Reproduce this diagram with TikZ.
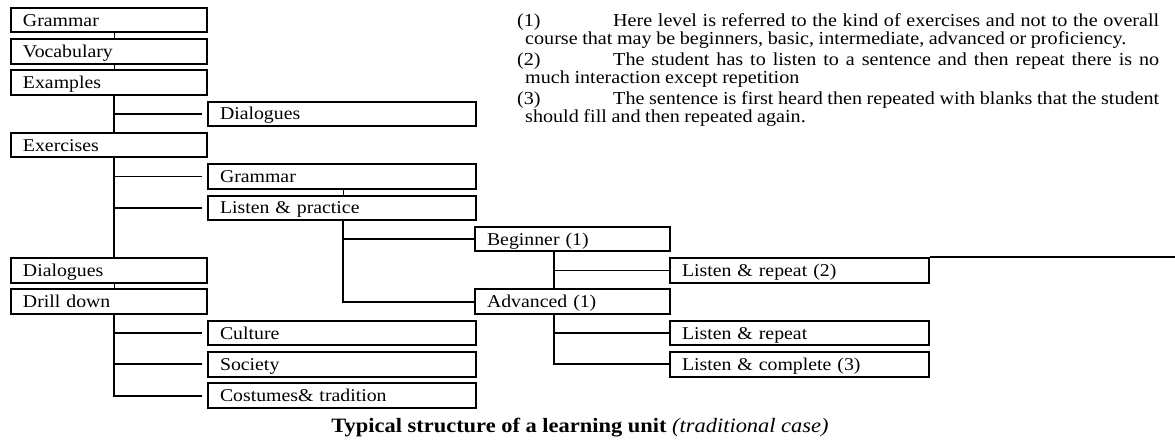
\documentclass[tikz,border=0pt]{standalone}
\usepackage{fontspec}
\setmainfont{Liberation Serif}[FakeStretch=1.1]

\begin{document}
\begin{tikzpicture}[
        x=1pt, y=-1pt,
        cell/.style={draw, line width=2pt, anchor=west, minimum height=24.5pt, inner xsep=12pt, inner ysep=0pt, text height=12pt, text depth=0pt, align=left, font=\fontsize{18}{20}\selectfont},
        lvlA/.style={cell, text width=172pt},
        lvlB/.style={cell, text width=244pt},
        lvlC/.style={cell, text width=171pt},
        lvlD/.style={cell, text width=235pt},
        link/.style={line width=1.8pt},
        stub/.style={line width=1pt},
    ]
        \useasboundingbox (0,0) rectangle (1175,442);

        % Spine positions
        \coordinate (TA) at (114,0);
        \coordinate (TB) at (343,0);
        \coordinate (TC) at (554,0);
        \coordinate (RIM) at (1175,0);

        % Unit parts (first column)
        \node[lvlA] (GRAM) at (10,20) {Grammar};
        \node[lvlA] (VOCAB) at (10,51.3) {Vocabulary};
        \node[lvlA] (EXAM) at (10,82.6) {Examples};
        \node[lvlA] (EXER) at (10,145.2) {Exercises};
        \node[lvlA] (DIAL) at (10,270.4) {Dialogues};
        \node[lvlA] (DRILL) at (10,301.7) {Drill down};

        % Second column
        \node[lvlB] (EXDIAL) at (207,113.9) {Dialogues};
        \node[lvlB] (EXGRAM) at (207,176.5) {Grammar};
        \node[lvlB] (LISTEN) at (207,207.8) {Listen \& practice};
        \node[lvlB] (CULT) at (207,333) {Culture};
        \node[lvlB] (SOC) at (207,364.3) {Society};
        \node[lvlB] (COST) at (207,395.6) {Costumes\& tradition};

        % Levels (third column)
        \node[lvlC] (BEGIN) at (474,239.1) {Beginner (1)};
        \node[lvlC] (ADV) at (474,301.7) {Advanced (1)};

        % Exercise kinds (fourth column)
        \node[lvlD] (REP2) at (669,270.4) {Listen \& repeat (2)};
        \node[lvlD] (REP) at (669,333) {Listen \& repeat};
        \node[lvlD] (COMPL) at (669,364.3) {Listen \& complete (3)};

        % Main spine
        \draw[stub] (GRAM.south -| TA) -- (VOCAB.north -| TA);
        \draw[stub] (VOCAB.south -| TA) -- (EXAM.north -| TA);
        \draw[link] (EXAM.south -| TA) -- (EXER.north -| TA);
        \draw[link] (EXER.south -| TA) -- (DIAL.north -| TA);
        \draw[stub] (DIAL.south -| TA) -- (DRILL.north -| TA);
        \draw[link, shorten >=5pt] (DRILL.south -| TA) |- (COST.west);
        \draw[link, shorten >=5pt] (EXDIAL.west -| TA) -- (EXDIAL.west);
        \draw[link, shorten >=5pt] (EXGRAM.west -| TA) -- (EXGRAM.west);
        \draw[link, shorten >=5pt] (LISTEN.west -| TA) -- (LISTEN.west);
        \draw[link, shorten >=5pt] (CULT.west -| TA) -- (CULT.west);
        \draw[link, shorten >=5pt] (SOC.west -| TA) -- (SOC.west);

        % Listen & practice branch
        \draw[stub] (EXGRAM.south -| TB) -- (LISTEN.north -| TB);
        \draw[link] (LISTEN.south -| TB) |- (ADV.west);
        \draw[link] (BEGIN.west -| TB) -- (BEGIN.west);

        % Level branches
        \draw[link] (BEGIN.south -| TC) -- (ADV.north -| TC);
        \draw[link] (REP2.west -| TC) -- (REP2.west);
        \draw[link] (ADV.south -| TC) |- (COMPL.west);
        \draw[link] (REP.west -| TC) -- (REP.west);
        \draw[link] (REP2.north east) -- (REP2.north east -| RIM);

        % Notes
        \node[anchor=base west, text width=634pt, align=justify, inner sep=0pt, font=\fontsize{18.3}{17.8}\selectfont] (NOTES) at (525,26.5) {%
            \parindent=0pt \parskip=3.5pt \hyphenpenalty=10000 \tolerance=9999
            \spaceskip=0.25em plus 0.5em minus 0.12em
            \hspace*{-8pt}\makebox[96pt][l]{(1)}Here level is referred to the kind of exercises and not to the overall\linebreak
            course that may be beginners, basic, intermediate, advanced or proficiency.\par
            \hspace*{-8pt}\makebox[96pt][l]{(2)}The student has to listen to a sentence and then repeat there is no\linebreak
            much interaction except repetition\par
            \hspace*{-8pt}\makebox[96pt][l]{(3)}The sentence is first heard then repeated with blanks that the student\linebreak
            should fill and then repeated again.\par};

        % Caption
        \node[font=\fontsize{20.4}{22}\selectfont] (CAPTION) at (580,428) {\textbf{Typical structure of a learning unit} \textit{(traditional case)}};
    \end{tikzpicture}
\end{document}
